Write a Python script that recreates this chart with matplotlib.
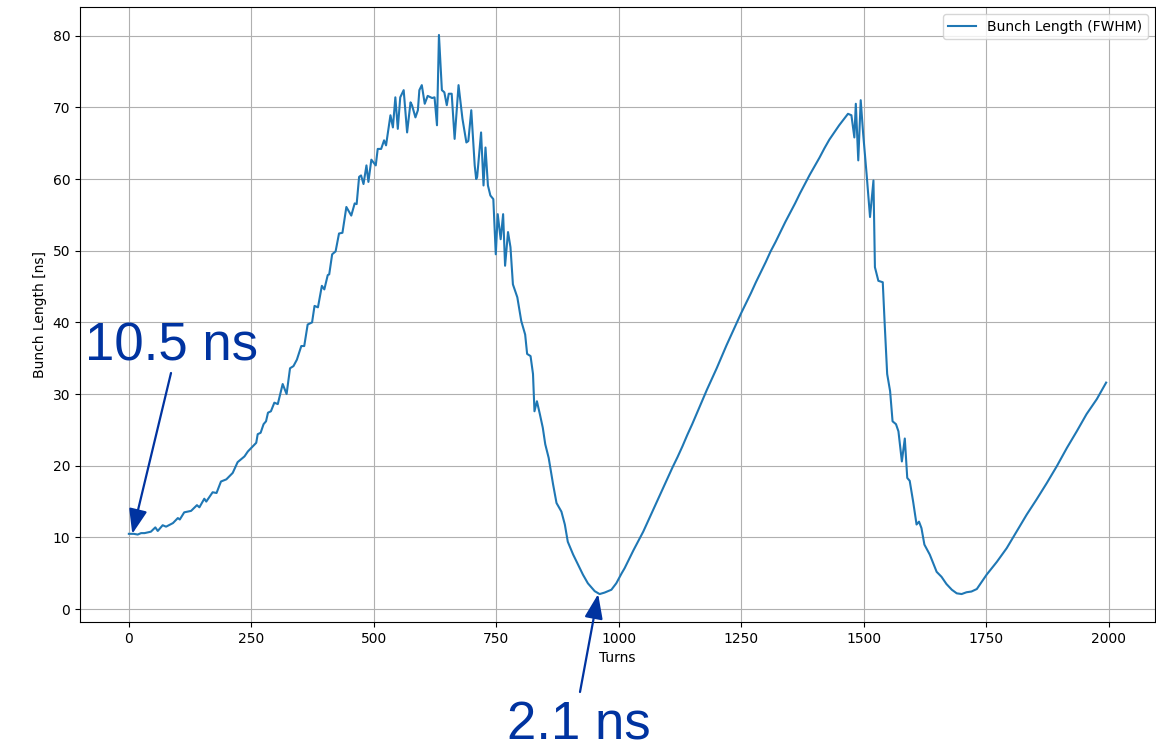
import matplotlib
matplotlib.use("Agg")
import matplotlib.pyplot as plt

# bunch length (FWHM) vs turn number
turns = [0, 10, 18, 25, 32, 45, 54, 59, 69, 76, 90, 100, 104, 113, 127, 139, 144, 154, 158,
         171, 179, 188, 199, 212, 222, 236, 243, 253, 260, 263, 269, 275, 280, 284, 290, 297,
         304, 314, 322, 329, 336, 343, 352, 358, 365, 374, 379, 386, 394, 399, 406, 409, 415,
         422, 429, 436, 444, 454, 461, 465, 470, 474, 479, 485, 489, 495, 504, 508, 515, 521,
         525, 534, 539, 544, 549, 554, 561, 568, 575, 578, 585, 590, 593, 598, 604, 610, 619,
         624, 629, 633, 639, 644, 649, 653, 659, 665, 673, 681, 689, 693, 699, 706, 709, 711,
         719, 724, 728, 733, 738, 744, 749, 753, 759, 764, 768, 774, 779, 784, 793, 801, 809,
         813, 820, 825, 828, 833, 839, 845, 850, 857, 866, 873, 883, 890, 896, 907, 917, 927,
         937, 951, 961, 971, 985, 995, 1006, 1012, 1020, 1030, 1040, 1050, 1060, 1070, 1080,
         1090, 1100, 1110, 1120, 1130, 1140, 1150, 1160, 1170, 1180, 1190, 1200, 1210, 1220,
         1230, 1240, 1250, 1260, 1270, 1280, 1290, 1300, 1310, 1320, 1330, 1340, 1350, 1360,
         1370, 1380, 1390, 1400, 1410, 1420, 1430, 1440, 1450, 1460, 1468, 1475, 1481, 1484,
         1489, 1494, 1499, 1506, 1513, 1520, 1523, 1530, 1539, 1543, 1548, 1554, 1559, 1566,
         1571, 1578, 1584, 1589, 1594, 1601, 1608, 1613, 1618, 1624, 1635, 1642, 1649, 1659,
         1669, 1680, 1690, 1700, 1710, 1720, 1731, 1741, 1751, 1772, 1792, 1812, 1833, 1853,
         1874, 1894, 1915, 1935, 1955, 1976, 1995]
bunch_length = [10.5, 10.5, 10.4, 10.6, 10.6, 10.8, 11.4, 10.9, 11.7, 11.5, 12.0, 12.7, 12.5,
                13.5, 13.7, 14.5, 14.2, 15.4, 15.0, 16.3, 16.2, 17.8, 18.1, 19.0, 20.5, 21.3,
                22.0, 22.7, 23.2, 24.4, 24.6, 25.8, 26.2, 27.4, 27.6, 28.8, 28.6, 31.4, 30.0,
                33.6, 33.9, 34.8, 36.7, 36.7, 39.7, 40.0, 42.3, 42.1, 45.1, 44.6, 46.6, 46.7,
                49.5, 49.9, 52.4, 52.5, 56.1, 54.9, 56.6, 56.5, 60.3, 60.5, 59.3, 61.9, 59.6,
                62.7, 61.9, 64.2, 64.2, 65.4, 64.7, 68.9, 67.2, 71.4, 67.0, 71.4, 72.4, 66.5,
                70.7, 70.3, 68.6, 69.6, 72.4, 73.1, 70.5, 71.6, 71.3, 71.4, 67.5, 80.1, 72.4,
                72.1, 70.3, 71.9, 71.9, 65.6, 73.1, 68.4, 65.1, 65.3, 69.6, 61.9, 60.0, 60.3,
                66.5, 59.1, 64.4, 59.1, 57.7, 57.2, 49.5, 55.1, 51.6, 55.1, 47.9, 52.6, 50.5,
                45.3, 43.5, 40.2, 38.3, 35.6, 35.3, 32.8, 27.6, 29.0, 27.2, 25.3, 23.0, 21.1,
                17.4, 14.8, 13.6, 11.8, 9.4, 7.6, 6.2, 4.8, 3.6, 2.5, 2.1, 2.3, 2.7, 3.6, 5.0,
                5.7, 6.8, 8.2, 9.5, 10.8, 12.3, 13.8, 15.3, 16.8, 18.3, 19.8, 21.2, 22.7, 24.3,
                25.8, 27.4, 29.0, 30.6, 32.1, 33.6, 35.2, 36.8, 38.3, 39.8, 41.3, 42.7, 44.1,
                45.6, 47.0, 48.4, 49.9, 51.2, 52.6, 54.0, 55.3, 56.6, 58.0, 59.3, 60.6, 61.8,
                63.0, 64.3, 65.5, 66.5, 67.5, 68.4, 69.1, 68.9, 65.8, 70.5, 62.6, 71.0, 66.3,
                60.7, 54.7, 59.8, 47.7, 45.8, 45.6, 39.7, 32.8, 30.4, 26.2, 25.8, 24.8, 20.6,
                23.8, 18.3, 17.9, 15.0, 11.8, 12.2, 11.3, 9.0, 7.6, 6.4, 5.2, 4.5, 3.5, 2.7,
                2.2, 2.1, 2.35, 2.45, 2.8, 3.8, 4.8, 6.6, 8.5, 10.8, 13.2, 15.3, 17.6, 19.9,
                22.5, 24.8, 27.2, 29.3, 31.6]

# annotated points: (turn, value, label)
start_note = (7, 10.5, "10.5 ns")
min_note = (958, 2.1, "2.1 ns")

W, H = 1156, 752
fig = plt.figure(figsize=(W / 100, H / 100), dpi=100)
ax = fig.add_axes([80 / W, 130 / H, 1075 / W, 615 / H])

ax.plot(turns, bunch_length, color="#1f77b4", lw=1.5, label="Bunch Length (FWHM)")
ax.set_xlabel("Turns")
ax.set_ylabel("Bunch Length [ns]")
ax.grid(True)
ax.legend(loc="upper right")

note_color = "#0033a0"
arrow = dict(arrowstyle="-|>,head_length=0.75,head_width=0.28", color=note_color,
             lw=1.6, mutation_scale=20, shrinkA=0, shrinkB=0)

def px(x, y):
    return (x / W, 1 - y / H)

# start value
ax.annotate("", xy=start_note[:2], xycoords="data", xytext=px(171, 373),
            textcoords="figure fraction", arrowprops=arrow, annotation_clip=False)
fig.text(*px(85, 360), start_note[2], fontsize=38, color=note_color,
         family="Liberation Sans", ha="left", va="baseline")

# minimum value
ax.annotate("", xy=min_note[:2], xycoords="data", xytext=px(580, 692),
            textcoords="figure fraction", arrowprops=arrow, annotation_clip=False)
fig.text(*px(507, 751), min_note[2], fontsize=38, color=note_color,
         family="Liberation Sans", ha="left", va="bottom")

fig.savefig("out.png", dpi=100)
